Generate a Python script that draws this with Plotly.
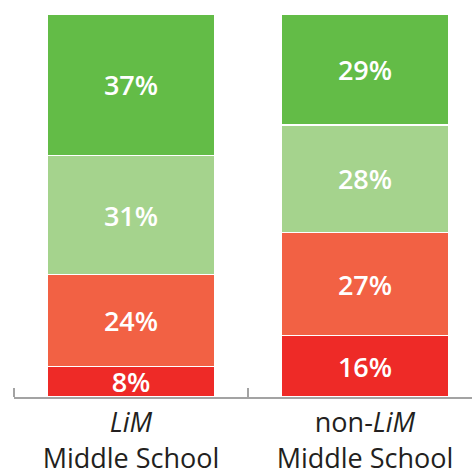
import plotly.graph_objects as go

categories = ["<i>LiM</i><br>Middle School", "non-<i>LiM</i><br>Middle School"]
series_names = ["Red", "Orange", "Light green", "Green"]
values = {
    "Red": [8, 16],
    "Orange": [24, 27],
    "Light green": [31, 28],
    "Green": [37, 29],
}
colors = {
    "Red": "#EE2A27",
    "Orange": "#F26144",
    "Light green": "#A5D38D",
    "Green": "#63BC47",
}

xpos = [0, 1]
fig = go.Figure()
for name in series_names:
    fig.add_trace(go.Bar(
        x=xpos, y=values[name], name=name,
        marker=dict(color=colors[name], line=dict(color="white", width=1.5)),
        width=0.714,
        text=[f"{v}%" for v in values[name]],
        textposition="inside", insidetextanchor="middle",
        textfont=dict(family="Open Sans", size=27, color="white", weight=600),
        textangle=0,
        cliponaxis=False,
    ))

fig.update_layout(
    barmode="stack",
    width=472, height=473,
    margin=dict(l=14, r=0, t=14, b=76),
    paper_bgcolor="white", plot_bgcolor="white",
    showlegend=False,
    font=dict(family="Open Sans", color="#231f20"),
    uniformtext=dict(mode="show", minsize=27),
)
fig.update_xaxes(
    range=[-0.5, -0.5 + 458 / 234],
    tickmode="array", tickvals=xpos, ticktext=categories,
    ticks="", showgrid=False, zeroline=False, automargin=False,
    showline=True, linecolor="#a3a3a3", linewidth=2,
    tickfont=dict(family="Open Sans", size=27, color="#231f20", weight=500),
    ticklabelstandoff=1,
    minor=dict(tickmode="array", tickvals=[-0.5, 0.5, 1.5], ticks="inside",
               ticklen=9, tickwidth=2, tickcolor="#a3a3a3", showgrid=False),
)
fig.update_yaxes(range=[0, 100], visible=False, showgrid=False, zeroline=False, automargin=False)

fig.write_html("out.html")
